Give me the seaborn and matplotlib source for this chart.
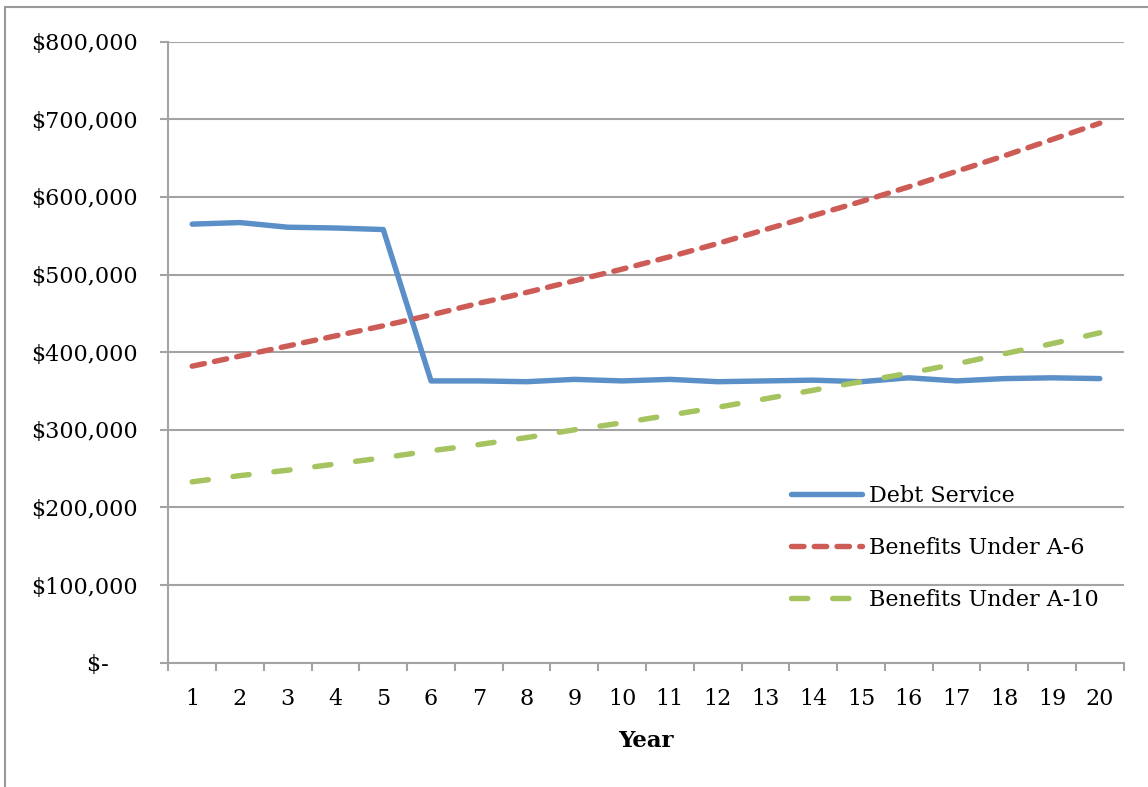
import matplotlib
matplotlib.use("Agg")
import matplotlib.pyplot as plt
from matplotlib.patches import Rectangle
from matplotlib.ticker import FixedLocator, FuncFormatter
import pandas as pd
import seaborn as sns

# ---- data -------------------------------------------------------------
years = list(range(1, 21))
debt_service = [565000, 567000, 561000, 560000, 558000, 363000, 363000, 362000,
                365000, 363000, 365000, 362000, 363000, 364000, 362000, 367000,
                363000, 366000, 367000, 366000]
benefits_a6 = [382000, 395000, 408000, 421000, 434000, 448000, 463000, 477000,
               492000, 507000, 523000, 540000, 558000, 576000, 594000, 613000,
               633000, 653000, 674000, 695000]
benefits_a10 = [233000, 241000, 248000, 256000, 264000, 273000, 281000, 290000,
                300000, 309000, 319000, 329000, 340000, 351000, 362000, 373000,
                385000, 398000, 411000, 425000]
series_names = ["Debt Service", "Benefits Under A-6", "Benefits Under A-10"]
y_ticks = [0, 100000, 200000, 300000, 400000, 500000, 600000, 700000, 800000]

# ---- styling ----------------------------------------------------------
sns.set_theme(style="white")
plt.rcParams["font.family"] = ["DejaVu Serif"]
plt.rcParams["text.color"] = "black"
plt.rcParams["axes.labelcolor"] = "black"

W, H = 1148, 787
colors = {"Debt Service": "#5A8FC8",
          "Benefits Under A-6": "#CD5C57",
          "Benefits Under A-10": "#A5C35F"}
dash_specs = {"Debt Service": "",
              "Benefits Under A-6": (2.3, 1.9),
              "Benefits Under A-10": (3.0, 4.6)}
grid_gray = "#A3A3A3"
fs = 16
lw = 3.9

fig = plt.figure(figsize=(W / 100, H / 100), dpi=100)
ax_left, ax_right = 168.3 / W, 1123.7 / W
ax_top, ax_bottom = 1 - 41.7 / H, 1 - 662.7 / H
ax = fig.add_axes([ax_left, ax_bottom, ax_right - ax_left, ax_top - ax_bottom])

df = pd.DataFrame({
    "Year": years * 3,
    "Value": debt_service + benefits_a6 + benefits_a10,
    "Series": [n for n in series_names for _ in years],
})

sns.lineplot(data=df, x="Year", y="Value", hue="Series", style="Series",
             hue_order=series_names, style_order=series_names,
             palette=colors, dashes=dash_specs, linewidth=lw, ax=ax,
             legend=True, zorder=3)

for ln in ax.lines:
    ln.set_dash_capstyle("round")
    ln.set_solid_capstyle("round")
    ln.set_solid_joinstyle("round")
    ln.set_dash_joinstyle("round")

# ---- axes -------------------------------------------------------------
ax.set_xlim(0.5, 20.5)
ax.set_ylim(0, 800000)
ax.set_facecolor("white")

ax.xaxis.set_major_locator(FixedLocator(years))
ax.xaxis.set_minor_locator(FixedLocator([y + 0.5 for y in range(0, 21)]))
ax.set_xticklabels([str(y) for y in years])
ax.tick_params(axis="x", which="major", length=0, pad=18.5, labelsize=fs,
               labelcolor="black")
ax.tick_params(axis="x", which="minor", length=6, width=1.5, color=grid_gray,
               direction="out", bottom=True)

ax.yaxis.set_major_locator(FixedLocator(y_ticks))
ax.yaxis.set_major_formatter(
    FuncFormatter(lambda v, p: "$-    " if v == 0 else f"${v:,.0f}"))
ax.tick_params(axis="y", which="major", length=6, width=1.5, color=grid_gray,
               direction="out", left=True, pad=16, labelsize=fs,
               labelcolor="black")

ax.yaxis.grid(True, color=grid_gray, linewidth=1.5)
ax.xaxis.grid(False)
ax.set_axisbelow(True)

for side in ("top", "right"):
    ax.spines[side].set_visible(False)
for side in ("left", "bottom"):
    ax.spines[side].set_color(grid_gray)
    ax.spines[side].set_linewidth(1.5)

ax.set_ylabel("")
ax.set_xlabel("Year", fontsize=fs + 0.5, fontweight="bold", labelpad=14,
              color="black")

# ---- legend -----------------------------------------------------------
handles, labels = ax.get_legend_handles_labels()
leg = ax.legend(handles, labels, loc="center left",
                bbox_to_anchor=(791 / W, 1 - 548 / H),
                bbox_transform=fig.transFigure, frameon=False, fontsize=fs,
                handlelength=3.2, handletextpad=0.3, labelspacing=1.35,
                borderpad=0, borderaxespad=0)
for ln in leg.get_lines():
    ln.set_linewidth(lw)
    ln.set_dash_capstyle("round")
    ln.set_solid_capstyle("round")
for t in leg.get_texts():
    t.set_color("black")

# ---- outer chart border ----------------------------------------------
fig.add_artist(Rectangle((5 / W, -0.2), 1.2, 0.2 + (1 - 7.3 / H),
                         transform=fig.transFigure, fill=False,
                         edgecolor="#9A9A9A", linewidth=1.5))

fig.savefig("out.png", dpi=100, facecolor="white")
